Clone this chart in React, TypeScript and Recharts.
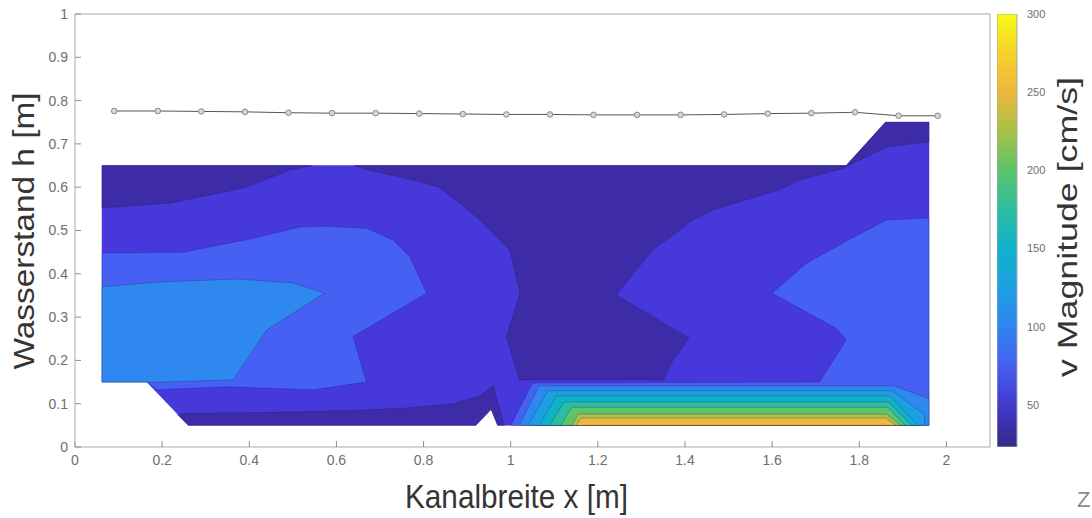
import { ComposedChart, Scatter, XAxis, YAxis, BarChart, Bar } from 'recharts'

type Pt = { x: number; y: number }
const pts = (a: number[][]): Pt[] => a.map(([x, y]) => ({ x, y }))

// axis ticks
const X_TICKS = [0, 0.2, 0.4, 0.6, 0.8, 1, 1.2, 1.4, 1.6, 1.8, 2]
const Y_TICKS = [0, 0.1, 0.2, 0.3, 0.4, 0.5, 0.6, 0.7, 0.8, 0.9, 1]
const CB_TICKS = [50, 100, 150, 200, 250, 300]
const CB_RANGE = [23, 300]

// water surface (Wasserspiegel)
const WATER_X = [0.09, 0.19, 0.29, 0.39, 0.49, 0.59, 0.69, 0.79, 0.89, 0.99, 1.09, 1.19, 1.29, 1.39, 1.49, 1.59, 1.69, 1.79, 1.89, 1.98]
const WATER_H = [0.776, 0.776, 0.775, 0.774, 0.772, 0.771, 0.771, 0.77, 0.769, 0.768, 0.768, 0.767, 0.767, 0.767, 0.768, 0.77, 0.771, 0.773, 0.765, 0.765]
const water = WATER_X.map((x, i) => ({ x, y: WATER_H[i] }))

// filled contour regions (x [m], h [m]), painted in order
const domainOutline = pts([[0.062, 0.65], [1.77, 0.65], [1.86, 0.75], [1.96, 0.75], [1.96, 0.05], [0.97, 0.05], [0.955, 0.087], [0.92, 0.05], [0.26, 0.05], [0.165, 0.15], [0.062, 0.15]])
const lowTopLeft = pts([[0.062, 0.65], [0.545, 0.65], [0.493, 0.64], [0.394, 0.6], [0.218, 0.563], [0.062, 0.552]])
const lowCentre = pts([[0.64, 0.65], [0.672, 0.64], [0.76, 0.62], [0.837, 0.6], [0.922, 0.531], [0.998, 0.455], [1.021, 0.355], [0.99, 0.254], [1.02, 0.155], [1.35, 0.155], [1.372, 0.2], [1.41, 0.252], [1.242, 0.351], [1.326, 0.455], [1.418, 0.524], [1.463, 0.547], [1.617, 0.594], [1.663, 0.617], [1.76, 0.642], [1.862, 0.693], [1.96, 0.705], [1.96, 0.75], [1.86, 0.75], [1.77, 0.65]])
const lowBottom = pts([[0.235, 0.075], [0.26, 0.05], [0.92, 0.05], [0.955, 0.087], [0.97, 0.05], [0.985, 0.05], [0.96, 0.143], [0.93, 0.118], [0.867, 0.1], [0.76, 0.09], [0.654, 0.085], [0.45, 0.08], [0.26, 0.078]])
const midLeft = pts([[0.062, 0.448], [0.248, 0.45], [0.4, 0.48], [0.516, 0.508], [0.578, 0.51], [0.669, 0.505], [0.73, 0.478], [0.768, 0.44], [0.807, 0.355], [0.638, 0.255], [0.669, 0.15], [0.546, 0.132], [0.349, 0.139], [0.188, 0.132], [0.165, 0.15], [0.062, 0.15]])
const highLeft = pts([[0.062, 0.37], [0.195, 0.381], [0.372, 0.388], [0.5, 0.379], [0.572, 0.355], [0.44, 0.27], [0.363, 0.155], [0.195, 0.15], [0.062, 0.15]])
const midRight = pts([[1.96, 0.529], [1.862, 0.524], [1.77, 0.475], [1.678, 0.424], [1.6, 0.355], [1.747, 0.274], [1.77, 0.247], [1.709, 0.15], [1.05, 0.148], [1.0, 0.05], [1.96, 0.05]])
const jet100 = pts([[1.02, 0.05], [1.065, 0.141], [1.88, 0.141], [1.96, 0.112], [1.96, 0.05]])
const jet125 = pts([[1.04, 0.05], [1.085, 0.13], [1.875, 0.13], [1.95, 0.075], [1.95, 0.05]])
const jet150 = pts([[1.065, 0.05], [1.105, 0.118], [1.87, 0.118], [1.935, 0.05]])
const jet175 = pts([[1.09, 0.05], [1.122, 0.104], [1.868, 0.104], [1.92, 0.05]])
const jet200 = pts([[1.115, 0.05], [1.14, 0.092], [1.865, 0.092], [1.905, 0.05]])
const jet225 = pts([[1.14, 0.05], [1.155, 0.076], [1.862, 0.076], [1.895, 0.05]])
const jet250 = pts([[1.15, 0.05], [1.162, 0.067], [1.86, 0.067], [1.885, 0.05]])

// colours (parula-like)
const COL = {
  l25: '#3e2ba8',
  l50: '#4638db',
  l75: '#4560f3',
  l100: '#2e88f0',
  l125: '#1d9fe2',
  l150: '#10b2cb',
  l175: '#2cbea2',
  l200: '#5cc46c',
  l225: '#a8c148',
  l250: '#f1b63c',
}

const layers: { data: Pt[]; fill: string; line: boolean }[] = [
  { data: domainOutline, fill: COL.l50, line: false },
  { data: lowTopLeft, fill: COL.l25, line: true },
  { data: lowCentre, fill: COL.l25, line: true },
  { data: lowBottom, fill: COL.l25, line: true },
  { data: midLeft, fill: COL.l75, line: true },
  { data: highLeft, fill: COL.l100, line: true },
  { data: midRight, fill: COL.l75, line: true },
  { data: jet100, fill: COL.l100, line: true },
  { data: jet125, fill: COL.l125, line: true },
  { data: jet150, fill: COL.l150, line: true },
  { data: jet175, fill: COL.l175, line: true },
  { data: jet200, fill: COL.l200, line: true },
  { data: jet225, fill: COL.l225, line: true },
  { data: jet250, fill: COL.l250, line: true },
]

const PARULA_STOPS: [number, string][] = [
  [23, '#352a87'],
  [40, '#3d31b5'],
  [55, '#4440d8'],
  [75, '#4560f0'],
  [100, '#2f85ef'],
  [125, '#1d9fe2'],
  [150, '#10b2cb'],
  [175, '#2cbea2'],
  [200, '#5cc46c'],
  [225, '#a8c148'],
  [250, '#eeb63c'],
  [275, '#f6d22c'],
  [300, '#f9fa14'],
]

const tickStyle = { fill: '#6e6e6e', fontSize: 14 }
const boxLine = { stroke: '#a9a9a9' }

const polygon = (fill: string, outline: boolean) => (p: any) => {
  const d = p.points.map((q: any, i: number) => `${i ? 'L' : 'M'}${q.x},${q.y}`).join('') + 'Z'
  return (
    <path
      d={d}
      fill={fill}
      stroke={outline ? '#1c1c4a' : fill}
      strokeOpacity={outline ? 0.35 : 1}
      strokeWidth={outline ? 0.8 : 0.5}
    />
  )
}

const noDot = () => <g />
const ringDot = (p: any) => <circle cx={p.cx} cy={p.cy} r={2.8} fill="#d6d6d6" stroke="#8a8a8a" strokeWidth={1} />

const cbData = [{ n: 'cb', v: CB_RANGE[1] }]

export default function App() {
  const span = CB_RANGE[1] - CB_RANGE[0]
  return (
    <div style={{ position: 'relative', width: 1092, height: 518, fontFamily: "'Liberation Sans', Arial, sans-serif", background: '#fff' }}>
      <style>{'body{margin:0}'}</style>
      <svg width={0} height={0} style={{ position: 'absolute' }}>
        <defs>
          <linearGradient id="parulaGrad" x1="0" y1="1" x2="0" y2="0">
            {PARULA_STOPS.map(([v, c]) => (
              <stop key={v} offset={(v - CB_RANGE[0]) / span} stopColor={c} />
            ))}
          </linearGradient>
        </defs>
      </svg>

      <div style={{ position: 'absolute', left: 0, top: 0 }}>
        <ComposedChart width={1092} height={518} margin={{ top: 13, right: 101, bottom: 41, left: 35 }}>
          <XAxis
            type="number"
            dataKey="x"
            domain={[0, 2.1]}
            ticks={X_TICKS}
            allowDataOverflow
            height={30}
            axisLine={boxLine}
            tickLine={{ stroke: '#8f8f8f' }}
            tickSize={-6}
            tickMargin={14}
            tick={tickStyle}
          />
          <XAxis
            xAxisId="top"
            orientation="top"
            type="number"
            domain={[0, 2.1]}
            ticks={X_TICKS}
            allowDataOverflow
            height={1}
            axisLine={boxLine}
            tickLine={{ stroke: '#8f8f8f' }}
            tickSize={-6}
            tick={false}
          />
          <YAxis
            type="number"
            dataKey="y"
            domain={[0, 1]}
            ticks={Y_TICKS}
            allowDataOverflow
            width={40}
            axisLine={boxLine}
            tickLine={{ stroke: '#8f8f8f' }}
            tickSize={-6}
            tickMargin={13}
            tick={tickStyle}
          />
          <YAxis
            yAxisId="right"
            orientation="right"
            type="number"
            domain={[0, 1]}
            ticks={Y_TICKS}
            allowDataOverflow
            width={1}
            axisLine={boxLine}
            tickLine={{ stroke: '#8f8f8f' }}
            tickSize={-6}
            tick={false}
          />
          {layers.map((l, i) => (
            <Scatter
              key={i}
              data={l.data}
              line={polygon(l.fill, l.line)}
              shape={noDot}
              isAnimationActive={false}
            />
          ))}
          <Scatter
            data={water}
            line={{ stroke: '#555555', strokeWidth: 1 }}
            shape={ringDot}
            isAnimationActive={false}
          />
        </ComposedChart>
      </div>

      <div style={{ position: 'absolute', left: 997, top: 0 }}>
        <BarChart width={95} height={518} data={cbData} margin={{ top: 14, right: 35, bottom: 71, left: 0 }} barCategoryGap={0}>
          <XAxis dataKey="n" hide height={0} />
          <YAxis
            orientation="right"
            type="number"
            domain={CB_RANGE}
            ticks={CB_TICKS}
            allowDataOverflow
            width={40}
            axisLine={false}
            tickLine={false}
            tickMargin={4}
            tick={{ fill: '#6e6e6e', fontSize: 11 }}
          />
          <Bar dataKey="v" fill="url(#parulaGrad)" stroke="#a9a9a9" strokeWidth={1} isAnimationActive={false} />
        </BarChart>
      </div>

      <svg width={1092} height={518} style={{ position: 'absolute', left: 0, top: 0, pointerEvents: 'none' }}>
        <text
          transform="translate(34,231) rotate(-90)"
          textAnchor="middle"
          fontSize={30}
          fill="#353535"
          textLength={277}
          lengthAdjust="spacingAndGlyphs"
        >
          Wasserstand h [m]
        </text>
        <text x={405} y={508} fontSize={33} fill="#353535" textLength={223} lengthAdjust="spacingAndGlyphs">
          Kanalbreite x [m]
        </text>
        <text
          transform="translate(1077,227) rotate(-90)"
          textAnchor="middle"
          fontSize={28}
          fill="#353535"
          textLength={300}
          lengthAdjust="spacingAndGlyphs"
        >
          v Magnitude [cm/s]
        </text>
        <text x={1077} y={507} fontSize={22} fill="#8a8a8a">
          Z
        </text>
      </svg>
    </div>
  )
}
